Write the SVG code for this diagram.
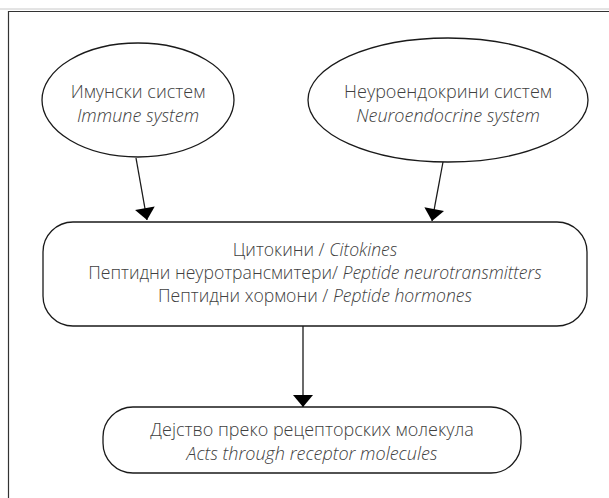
<svg xmlns="http://www.w3.org/2000/svg" width="609" height="498" viewBox="0 0 609 498">
<style>
.shape{fill:#fff;stroke:#1a1a1a;stroke-width:1.3}
.t{font-family:"Open Sans","Noto Sans",sans-serif;font-size:18px;font-weight:300;fill:#404040;text-anchor:middle}
.m{font-size:17.6px}
.i{font-style:italic}
.conn{stroke:#1a1a1a;stroke-width:1.3;fill:none}
</style>
<defs>
<marker id="ah" markerUnits="userSpaceOnUse" markerWidth="20" markerHeight="20" viewBox="0 0 12 20" refX="12" refY="10" orient="auto">
<path d="M0,0 L12,10 L0,20 Z" fill="#000"/>
</marker>
</defs>
<rect x="0" y="0" width="609" height="498" fill="#fff"/>
<line x1="0" y1="9" x2="609" y2="9" stroke="#c8c8c8" stroke-width="1"/>
<path d="M8.5,498 V11.5 H609" fill="none" stroke="#333" stroke-width="1.2"/>
<g id="immune">
<ellipse class="shape" cx="138" cy="100" rx="96" ry="57"/>
<text class="t" x="138" y="98">Имунски систем</text>
<text class="t i" x="138" y="122">Immune system</text>
</g>
<g id="neuro">
<ellipse class="shape" cx="448" cy="100" rx="140" ry="62"/>
<text class="t" x="448" y="98">Неуроендокрини систем</text>
<text class="t i" x="448" y="122">Neuroendocrine system</text>
</g>
<g id="mediators">
<rect class="shape" x="43" y="222" width="544" height="104" rx="30" ry="30"/>
<text class="t m" x="315" y="256">Цитокини / <tspan class="i">Citokines</tspan></text>
<text class="t m" x="315" y="279">Пептидни неуротрансмитери/ <tspan class="i">Peptide neurotransmitters</tspan></text>
<text class="t m" x="315" y="302">Пептидни хормони / <tspan class="i">Peptide hormones</tspan></text>
</g>
<g id="action">
<rect class="shape" x="103" y="407" width="418" height="66" rx="30" ry="30"/>
<text class="t" x="312" y="436">Дејство преко рецепторских молекула</text>
<text class="t i" x="312" y="460">Acts through receptor molecules</text>
</g>
<g id="connectors">
<line class="conn" x1="136" y1="158" x2="147" y2="220" marker-end="url(#ah)"/>
<line class="conn" x1="443" y1="162" x2="432" y2="221" marker-end="url(#ah)"/>
<line class="conn" x1="303" y1="326" x2="303" y2="407" marker-end="url(#ah)"/>
</g>
</svg>
